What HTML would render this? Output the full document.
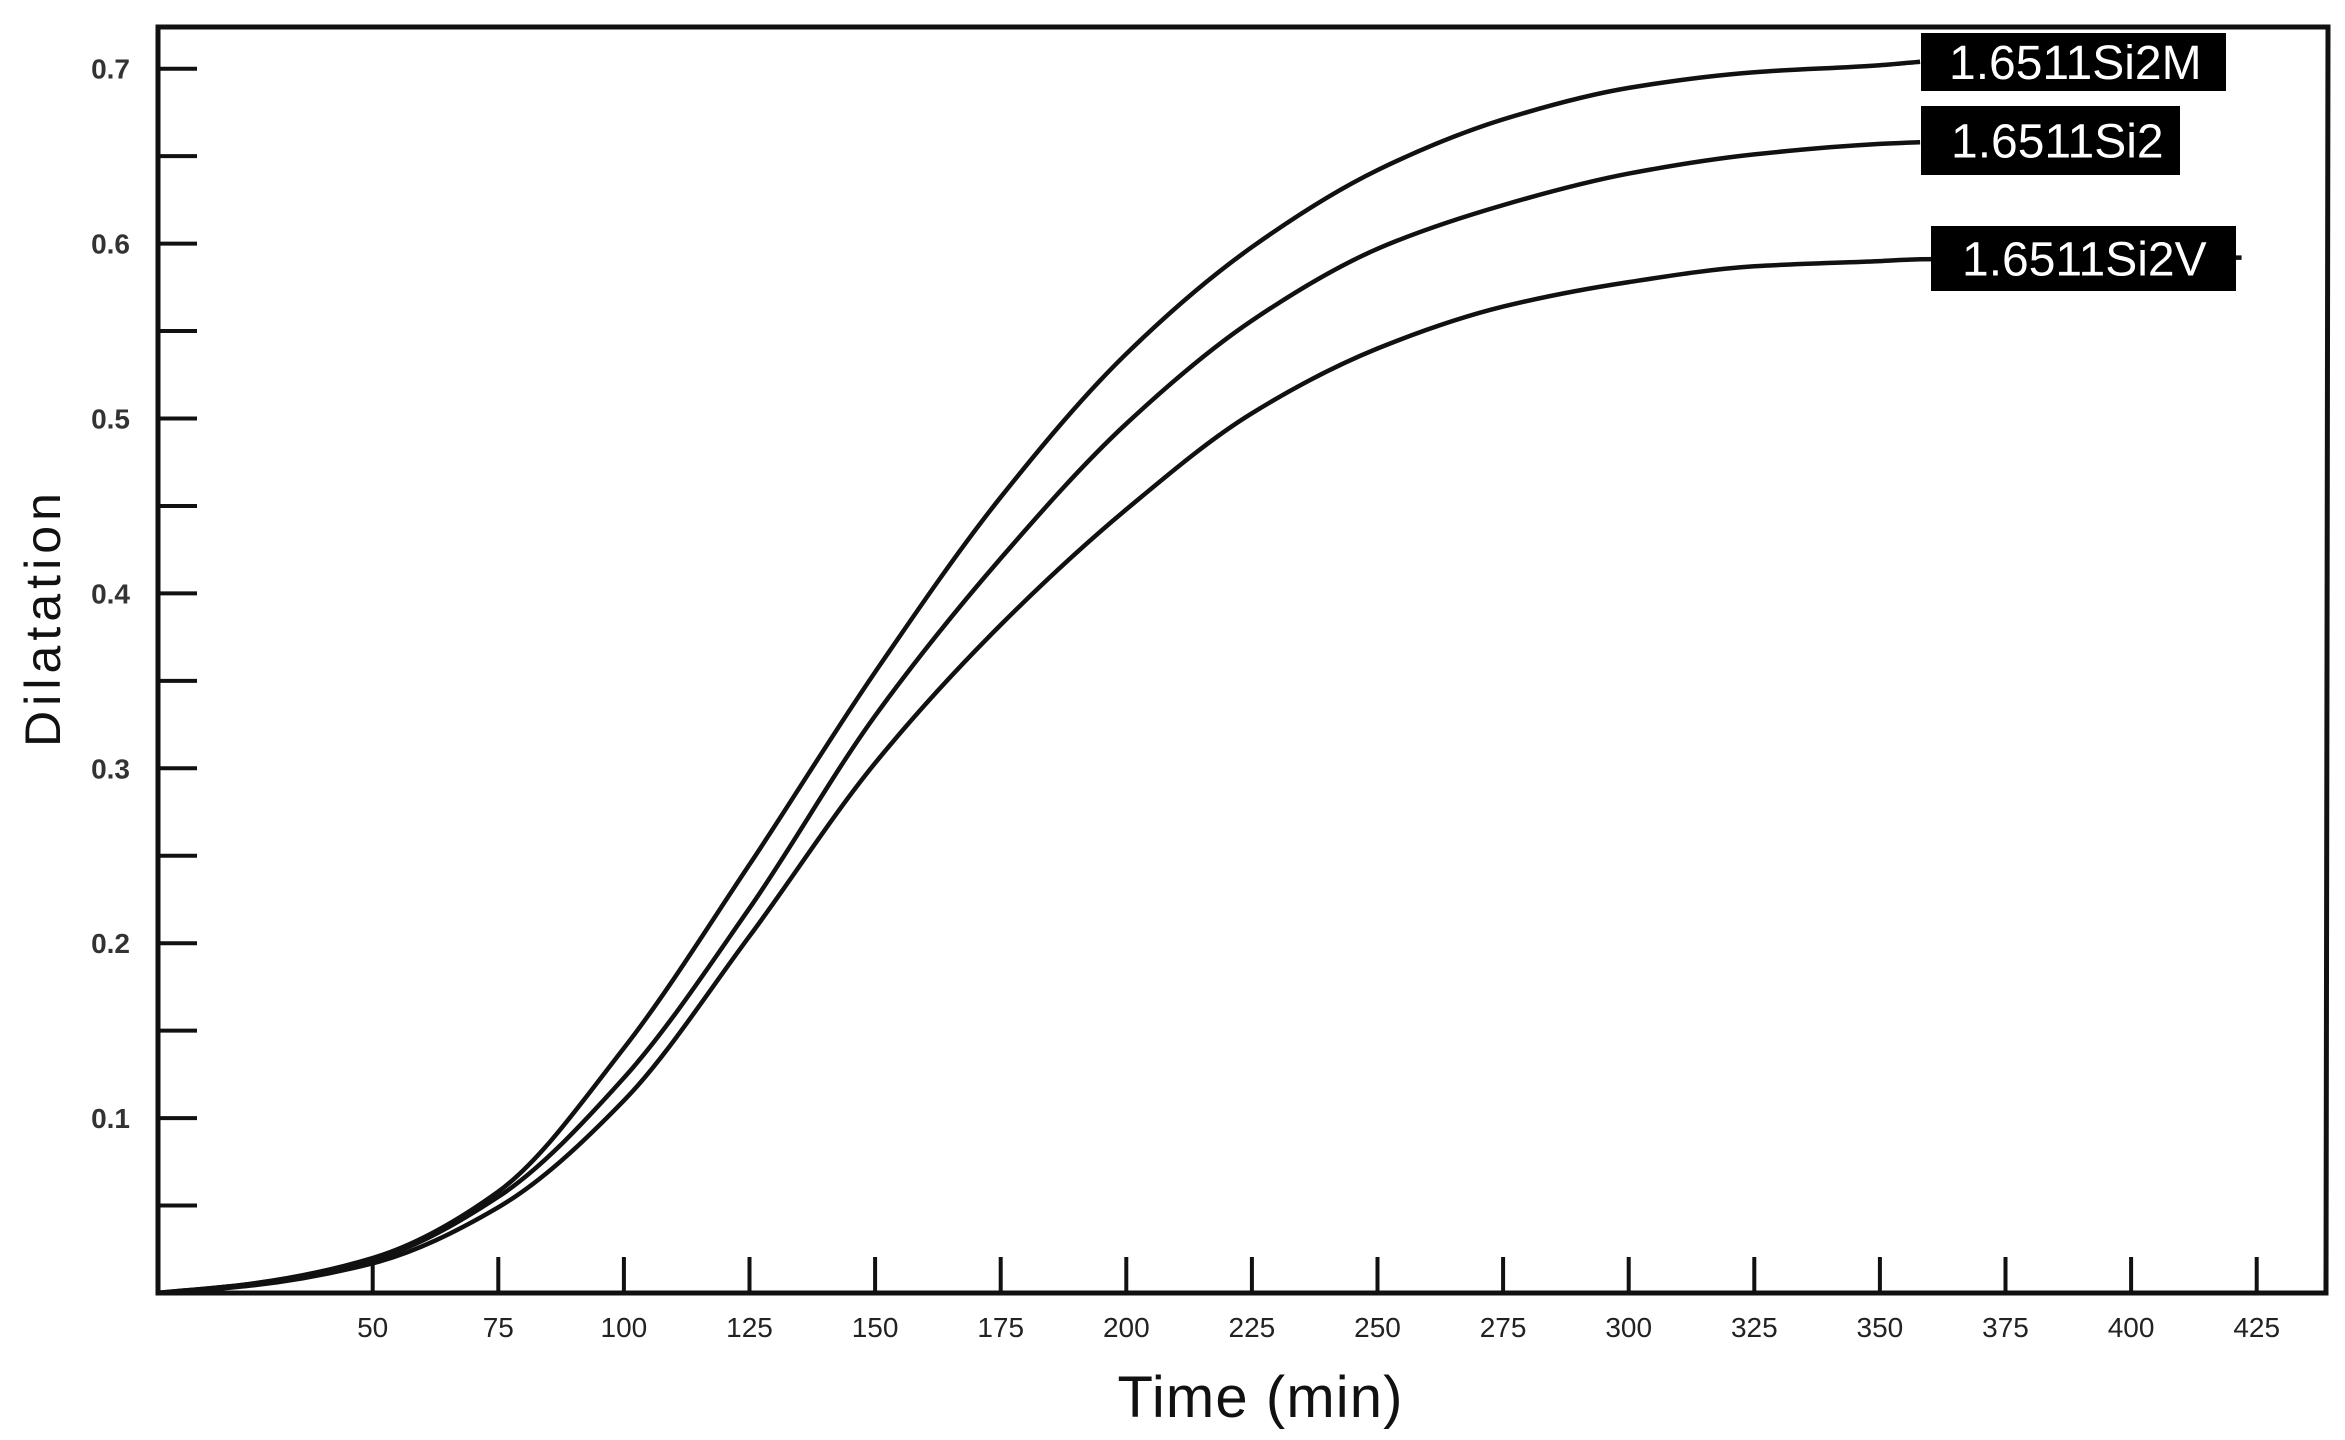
<!DOCTYPE html>
<html>
<head>
<meta charset="utf-8">
<style>
  html,body{margin:0;padding:0;background:#fff;}
  svg{display:block;}
  text{font-family:"Liberation Sans",sans-serif;}
</style>
</head>
<body>
<svg id="chart" width="2345" height="1440" viewBox="0 0 2345 1440" xmlns="http://www.w3.org/2000/svg">
  <rect x="0" y="0" width="2345" height="1440" fill="#fff"/>
  <g id="ticks"></g>
  <g id="series"></g>
  <path d="M158 27 L2328 27 L2326 1293 L158 1293 Z" fill="none" stroke="#111" stroke-width="5"/>
  <g id="labels"></g>
  <text x="1260" y="1417" font-size="58" text-anchor="middle" fill="#111" textLength="285">Time (min)</text>
  <text x="0" y="0" font-size="50" text-anchor="middle" fill="#111" transform="translate(60,620) rotate(-90)" textLength="254">Dilatation</text>
</svg>
<script>
const xTicks = [50,75,100,125,150,175,200,225,250,275,300,325,350,375,400,425];
const yTicks = [0.05,0.1,0.15,0.2,0.25,0.3,0.35,0.4,0.45,0.5,0.55,0.6,0.65,0.7];
const yTickLabels = ["","0.1","","0.2","","0.3","","0.4","","0.5","","0.6","","0.7"];
const seriesNames = ["1.6511Si2M","1.6511Si2","1.6511Si2V"];
const timesM = [7,25,50,75,100,125,150,175,200,225,250,275,300,325,350,358];
const valsM  = [0,0.005,0.02,0.058,0.14,0.245,0.355,0.455,0.537,0.598,0.642,0.671,0.689,0.698,0.702,0.704];
const times2 = [7,25,50,75,100,125,150,175,200,225,250,275,300,325,350,358];
const vals2  = [0,0.005,0.019,0.055,0.123,0.22,0.33,0.42,0.497,0.556,0.597,0.622,0.64,0.651,0.657,0.658];
const timesV = [7,25,50,75,100,125,150,175,200,225,250,275,300,325,350,358,422];
const valsV  = [0,0.004,0.017,0.049,0.11,0.204,0.303,0.382,0.448,0.503,0.54,0.564,0.578,0.587,0.59,0.591,0.592];

const NS = "http://www.w3.org/2000/svg";
function xScale(t){ return 121.5 + 5.024*t; }
function yScale(v){ return 1293 - 1749*v; }
function mk(tag, attrs, parent){
  const e = document.createElementNS(NS, tag);
  for (const k in attrs) e.setAttribute(k, attrs[k]);
  parent.appendChild(e);
  return e;
}
const gT = document.getElementById('ticks');
xTicks.forEach(t=>{
  const x = xScale(t);
  const l = mk('line',{x1:x,y1:1293,x2:x,y2:1257,stroke:'#111','stroke-width':4},gT);
  
  
  const tx = mk('text',{x:x,y:1337,'font-size':28,'text-anchor':'middle',fill:'#222'},gT);
  
  
  tx.textContent = t;
});
yTicks.forEach((v,i)=>{
  const y = yScale(v);
  const l = mk('line',{x1:158,y1:y,x2:197,y2:y,stroke:'#111','stroke-width':4},gT);
  
  
  if (yTickLabels[i]) {
    const tx = mk('text',{x:130,y:y+10,'font-size':28,'font-weight':'bold','text-anchor':'end',fill:'#333'},gT);
    
    
    tx.textContent = yTickLabels[i];
  }
});
// monotone cubic (Fritsch-Carlson) interpolation in pixel space
function smoothPath(ts, vs){
  const xs = ts.map(xScale), ys = vs.map(yScale);
  const n = xs.length;
  const d = [], m = new Array(n);
  for (let i=0;i<n-1;i++) d.push((ys[i+1]-ys[i])/(xs[i+1]-xs[i]));
  m[0]=d[0]; m[n-1]=d[n-2];
  for (let i=1;i<n-1;i++){
    if (d[i-1]*d[i] <= 0) m[i]=0;
    else { const w1=2*(xs[i+1]-xs[i])+(xs[i]-xs[i-1]), w2=(xs[i+1]-xs[i])+2*(xs[i]-xs[i-1]);
      m[i]=(w1+w2)/(w1/d[i-1]+w2/d[i]); }
  }
  let p = 'M'+xs[0].toFixed(1)+' '+ys[0].toFixed(1);
  for (let i=0;i<n-1;i++){
    const h = xs[i+1]-xs[i];
    p += ' C'+(xs[i]+h/3).toFixed(1)+' '+(ys[i]+m[i]*h/3).toFixed(1)+' '+(xs[i+1]-h/3).toFixed(1)+' '+(ys[i+1]-m[i+1]*h/3).toFixed(1)+' '+xs[i+1].toFixed(1)+' '+ys[i+1].toFixed(1);
  }
  return p;
}
const gS = document.getElementById('series');
const lineM = mk('path',{d:smoothPath(timesM,valsM),fill:'none',stroke:'#111','stroke-width':4.5},gS);


const line2 = mk('path',{d:smoothPath(times2,vals2),fill:'none',stroke:'#111','stroke-width':4.5},gS);


const lineV = mk('path',{d:smoothPath(timesV,valsV),fill:'none',stroke:'#111','stroke-width':4.5},gS);



const gL = document.getElementById('labels');
const boxes = [[1921,33,305,58,1949],[1921,106,259,69,1951],[1931,226,305,65,1962]];
boxes.forEach((b,i)=>{
  const r = mk('rect',{x:b[0],y:b[1],width:b[2],height:b[3],fill:'#000'},gL);
  
  
  const tx = mk('text',{x:b[4],y:b[1]+b[3]/2+17,'font-size':48,fill:'#fff'},gL);
  
  
  tx.textContent = seriesNames[i];
});
</script>
</body>
</html>
